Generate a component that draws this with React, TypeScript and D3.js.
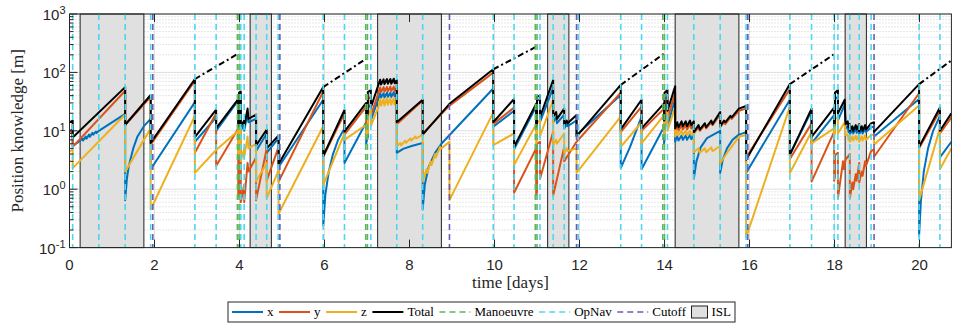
import React, { useEffect, useRef } from "react";
import * as d3 from "d3";

type Pt = [number, number];

// position knowledge per axis [m] vs time [days]; a repeated time marks a jump
const xKnowledge: Pt[] = [
  [0, 10], [0.075, 10.5], [0.075, 5.5], [0.25, 6.8], [0.3, 7.4], [0.32, 6.8], [0.38, 8], [0.4, 7.3],
  [0.46, 8.6], [0.48, 7.9], [0.54, 9.2], [0.56, 8.6], [0.62, 9.7], [0.64, 9.2], [0.69, 10], [1.31, 19.5],
  [1.31, 0.65], [1.35, 1.5], [1.4, 2.6], [1.5, 5], [1.6, 8], [1.75, 12], [1.91, 16], [1.91, 2.2],
  [2.95, 31], [2.95, 6.5], [3.45, 17], [3.45, 10], [3.97, 33], [3.97, 10], [3.99, 11], [3.99, 38],
  [4.03, 40], [4.03, 10], [4.11, 13], [4.11, 10], [4.19, 20], [4.21, 14], [4.39, 16], [4.39, 4.5],
  [4.64, 9], [4.64, 4.2], [4.92, 7.5], [4.92, 2.4], [5.97, 34], [5.97, 0.24], [6.02, 0.8], [6.1, 2],
  [6.2, 4], [6.32, 7], [6.47, 11], [6.47, 2.8], [6.98, 14], [6.98, 6], [7.02, 8], [7.02, 25],
  [7.09, 28], [7.09, 15], [7.27, 36], [7.31, 44], [7.33, 37], [7.39, 44], [7.41, 37], [7.47, 45],
  [7.49, 38], [7.55, 45], [7.57, 38], [7.63, 46], [7.65, 39], [7.7, 44], [7.7, 4.2], [7.85, 4.9],
  [8.05, 5.5], [8.31, 6.2], [8.31, 0.45], [8.36, 1.2], [8.45, 2.4], [8.6, 4.2], [8.75, 6], [9.97, 53],
  [9.97, 11.7], [10.46, 22], [10.46, 4.8], [10.98, 26], [10.98, 10], [11.0, 11], [11.0, 33], [11.07, 35],
  [11.07, 14], [11.38, 55], [11.38, 14], [11.45, 17], [11.47, 13.5], [11.64, 19], [11.64, 11], [11.7, 13],
  [11.72, 12], [11.93, 15], [11.93, 8.5], [12.97, 41], [12.97, 2.3], [13.19, 5.3], [13.46, 17.5], [13.46, 2.2],
  [13.99, 11.7], [13.99, 6], [14.0, 7], [14.0, 30], [14.07, 33], [14.07, 12], [14.25, 35], [14.25, 6.5],
  [14.3, 8], [14.33, 6.8], [14.4, 8.3], [14.43, 7], [14.5, 8.3], [14.53, 7], [14.6, 8.5], [14.63, 7.2],
  [14.69, 8.5], [14.69, 1.5], [14.75, 3], [14.85, 5.2], [15.0, 7.5], [15.31, 10], [15.31, 1.9], [15.37, 3.2],
  [15.47, 5], [15.6, 7], [15.75, 8.6], [15.92, 9.5], [15.92, 1.9], [16.95, 34], [16.95, 3.9], [17.46, 22],
  [17.46, 6.1], [17.99, 18.6], [17.99, 9], [18.01, 10], [18.01, 35], [18.08, 38], [18.08, 15], [18.24, 28],
  [18.26, 11], [18.31, 11.7], [18.33, 9.5], [18.36, 11], [18.36, 8.6], [18.42, 10.5], [18.44, 9], [18.5, 11],
  [18.52, 9.2], [18.58, 11.5], [18.58, 8.8], [18.64, 10.5], [18.66, 9], [18.72, 11], [18.74, 9.5], [18.86, 11.5],
  [18.93, 11.8], [18.93, 8], [19.99, 35], [19.99, 0.16], [20.03, 0.6], [20.1, 2], [20.2, 5], [20.32, 10],
  [20.48, 18], [20.48, 3.5], [20.75, 6.5],
];

const yKnowledge: Pt[] = [
  [0, 9.5], [0.075, 10], [0.075, 5.3], [1.31, 48.5], [1.31, 12.5], [1.91, 38], [1.91, 5.8], [2.95, 72],
  [2.95, 4.2], [3.45, 20], [3.45, 2.5], [3.97, 11], [3.97, 0.75], [3.99, 0.8], [3.99, 9], [4.03, 9.5],
  [4.03, 0.6], [4.11, 1.2], [4.11, 0.6], [4.19, 2.8], [4.21, 2], [4.39, 3.5], [4.39, 0.65], [4.64, 5],
  [4.64, 1.4], [4.92, 5.3], [4.92, 1.35], [5.97, 47], [5.97, 3.6], [6.47, 20], [6.47, 8.6], [6.98, 26],
  [6.98, 12], [7.02, 14], [7.02, 35], [7.09, 38], [7.09, 18], [7.27, 45], [7.31, 55], [7.33, 46],
  [7.39, 56], [7.41, 47], [7.47, 56], [7.49, 47], [7.55, 57], [7.57, 48], [7.63, 57], [7.65, 48],
  [7.7, 54], [7.7, 13], [8.31, 33], [8.31, 9], [8.94, 27], [9.97, 99], [9.97, 13], [10.46, 25],
  [10.46, 0.87], [10.98, 5], [10.98, 0.8], [11.0, 0.9], [11.0, 6], [11.07, 6.5], [11.07, 1.5], [11.38, 9.6],
  [11.38, 0.77], [11.64, 5.3], [11.64, 3], [11.93, 6.5], [12.97, 45], [12.97, 9.5], [13.46, 26], [13.46, 10],
  [13.99, 24], [13.99, 11], [14.0, 12], [14.0, 35], [14.07, 38], [14.07, 16], [14.25, 45], [14.25, 9.5],
  [14.3, 12], [14.33, 10], [14.4, 12.5], [14.43, 10.5], [14.5, 12.5], [14.53, 10.5], [14.6, 13], [14.63, 11],
  [14.69, 12.5], [14.69, 9], [14.8, 11.5], [14.83, 10], [14.95, 12.5], [14.98, 11], [15.1, 14], [15.13, 12.5],
  [15.31, 19], [15.31, 11.5], [15.4, 14], [15.43, 13], [15.55, 17], [15.58, 16], [15.75, 22], [15.92, 24],
  [15.92, 3.5], [16.95, 52], [16.95, 3.3], [17.46, 13.4], [17.46, 1.35], [17.99, 9.6], [17.99, 1.4], [18.01, 1.6],
  [18.01, 3.8], [18.08, 4.2], [18.08, 0.7], [18.2, 3], [18.22, 2.2], [18.26, 3.2], [18.36, 4], [18.36, 0.7],
  [18.42, 1.3], [18.44, 1.0], [18.5, 1.8], [18.52, 1.4], [18.58, 2.8], [18.58, 1.3], [18.64, 2], [18.66, 1.7],
  [18.72, 3], [18.74, 2.5], [18.86, 4.5], [18.93, 4.8], [18.93, 3.6], [19.99, 44], [19.99, 5], [20.48, 22],
  [20.48, 9], [20.75, 17],
];

const zKnowledge: Pt[] = [
  [0, 4.5], [0.075, 4.7], [0.075, 2.3], [1.31, 19], [1.31, 2.0], [1.91, 11], [1.91, 0.45], [2.95, 18],
  [2.95, 1.9], [3.45, 4.7], [3.97, 10], [3.97, 3.8], [3.99, 4], [3.99, 11], [4.03, 11.7], [4.03, 3],
  [4.11, 5], [4.11, 3.5], [4.19, 8], [4.21, 5], [4.39, 6], [4.39, 1.35], [4.64, 2.8], [4.64, 0.7],
  [4.92, 2.1], [4.92, 0.38], [5.97, 12], [5.97, 1.18], [6.47, 9], [6.47, 7], [6.98, 12.7], [6.98, 8],
  [7.02, 9], [7.02, 20], [7.09, 22], [7.09, 12], [7.27, 26], [7.31, 35], [7.33, 27], [7.39, 35],
  [7.41, 27], [7.47, 36], [7.49, 28], [7.55, 36], [7.57, 28], [7.63, 36], [7.65, 28], [7.7, 33],
  [7.7, 5.3], [7.78, 6.2], [7.8, 5.6], [7.9, 6.8], [7.92, 6.2], [8.02, 7.4], [8.04, 6.8], [8.14, 8],
  [8.16, 7.4], [8.31, 8.5], [8.31, 1.35], [8.4, 2.2], [8.42, 1.9], [8.5, 3], [8.52, 2.6], [8.6, 4],
  [8.62, 3.5], [8.72, 5.3], [8.75, 5], [8.94, 6.5], [8.94, 0.65], [9.97, 20.5], [9.97, 5.7], [10.46, 9],
  [10.46, 2.6], [10.98, 13], [10.98, 6], [11.0, 7], [11.0, 14], [11.07, 15], [11.07, 8], [11.38, 34],
  [11.38, 5.7], [11.45, 7], [11.47, 6], [11.64, 9], [11.64, 4.2], [11.7, 5], [11.72, 4.5], [11.93, 5],
  [11.93, 1.9], [12.97, 17.5], [12.97, 5.3], [13.46, 14], [13.46, 6.1], [13.99, 18.6], [13.99, 8], [14.0, 9],
  [14.0, 20], [14.07, 22], [14.07, 10], [14.25, 25], [14.25, 8], [14.3, 10], [14.33, 8.5], [14.4, 10],
  [14.43, 8.5], [14.5, 10], [14.53, 8.5], [14.6, 10], [14.63, 8.5], [14.69, 9.5], [14.69, 4.3], [14.8, 5],
  [14.83, 4.2], [14.95, 5], [14.98, 4.3], [15.1, 5.2], [15.13, 4.5], [15.31, 5.5], [15.31, 2.8], [15.5, 4.5],
  [15.75, 7.9], [15.92, 8.5], [15.92, 0.15], [16.95, 26], [16.95, 1.9], [17.46, 9.6], [17.46, 6.1], [17.99, 11],
  [17.99, 8], [18.01, 9], [18.01, 16], [18.08, 17], [18.08, 9], [18.24, 14], [18.26, 8.5], [18.31, 8.6],
  [18.33, 7], [18.36, 8], [18.36, 6.5], [18.42, 8], [18.44, 6.8], [18.5, 8.2], [18.52, 7], [18.58, 8.4],
  [18.58, 6.5], [18.64, 8], [18.66, 6.8], [18.72, 8.3], [18.74, 7], [18.86, 8.5], [18.93, 8.6], [18.93, 5.8],
  [19.99, 27], [19.99, 0.65], [20.48, 11], [20.48, 2.2], [20.75, 5],
];

const totalKnowledge: Pt[] = [
  [0, 14], [0.075, 15], [0.075, 7.7], [1.31, 56], [1.31, 12.7], [1.91, 41], [1.91, 6.2], [2.95, 77],
  [2.95, 7.8], [3.45, 23], [3.45, 11], [3.97, 35], [3.97, 12], [3.99, 13], [3.99, 45], [4.03, 47],
  [4.03, 12], [4.11, 15], [4.11, 12], [4.19, 24], [4.21, 16], [4.39, 19], [4.39, 5.6], [4.64, 10.5],
  [4.64, 5], [4.92, 8.3], [4.92, 2.7], [5.97, 56], [5.97, 3.7], [6.47, 22.7], [6.47, 9.7], [6.98, 30],
  [6.98, 16], [7.02, 20], [7.02, 46], [7.09, 50], [7.09, 25], [7.27, 62], [7.31, 75], [7.33, 62],
  [7.39, 76], [7.41, 63], [7.47, 77], [7.49, 64], [7.55, 77], [7.57, 64], [7.63, 78], [7.65, 65],
  [7.7, 74], [7.7, 14], [8.31, 34], [8.31, 8.6], [8.94, 29], [9.97, 113], [9.97, 14], [10.46, 35],
  [10.46, 5.3], [10.98, 29], [10.98, 11.7], [11.0, 13], [11.0, 38], [11.07, 40], [11.07, 17], [11.38, 74],
  [11.38, 17.5], [11.45, 21], [11.47, 16], [11.64, 24], [11.64, 12.7], [11.7, 15], [11.72, 13.5], [11.93, 18.6],
  [11.93, 8], [12.97, 61], [12.97, 10.6], [13.46, 34], [13.46, 11], [13.99, 29.5], [13.99, 15], [14.0, 16],
  [14.0, 45], [14.07, 50], [14.07, 22], [14.25, 58], [14.25, 11], [14.3, 14], [14.33, 11.5], [14.4, 14.5],
  [14.43, 12], [14.5, 14.5], [14.53, 12], [14.6, 15], [14.63, 12.5], [14.69, 14.5], [14.69, 9.5], [14.8, 12.5],
  [14.83, 10.5], [14.95, 13.5], [14.98, 11.5], [15.1, 15], [15.13, 13], [15.31, 21], [15.31, 12], [15.4, 15],
  [15.43, 14], [15.55, 18], [15.58, 17], [15.75, 24], [15.92, 26.6], [15.92, 3.2], [16.95, 63], [16.95, 3.9],
  [17.46, 24], [17.46, 7.9], [17.99, 25], [17.99, 12], [18.01, 14], [18.01, 45], [18.08, 50], [18.08, 20],
  [18.24, 34], [18.26, 13], [18.31, 14.5], [18.33, 11.5], [18.36, 13], [18.36, 10], [18.42, 12], [18.44, 10],
  [18.5, 12.5], [18.52, 10.5], [18.58, 13], [18.58, 9.8], [18.64, 12], [18.66, 10], [18.72, 12.5], [18.74, 10.5],
  [18.86, 13.4], [18.93, 14], [18.93, 9.6], [19.99, 63], [19.99, 5.3], [20.48, 25], [20.48, 10], [20.75, 20],
];

// total knowledge propagated without the next update (dash-dot)
const propagated: Pt[][] = [
  [[2.95, 77], [3.97, 210]],
  [[5.97, 56], [6.98, 172]],
  [[9.97, 113], [10.98, 275]],
  [[12.97, 61], [13.99, 210]],
  [[16.95, 63], [17.99, 205]],
  [[19.99, 63], [20.75, 160]],
];

const islWindows: Pt[] = [
  [0.25, 1.75], [4.25, 4.75], [7.25, 8.75], [11.25, 11.75], [14.25, 15.75], [18.25, 18.75],
];
const manoeuvreTimes = [3.95, 3.99, 6.97, 7.01, 10.96, 11.0, 13.96, 14.0];
const opnavTimes = [
  0.075, 0.69, 1.31, 1.91, 2.95, 3.45, 4.03, 4.11, 4.39, 4.64, 4.91, 5.97, 6.47, 7.09, 7.7, 8.31,
  9.97, 10.46, 11.07, 11.38, 11.64, 11.97, 12.97, 13.46, 14.07, 14.69, 15.31, 15.92, 16.95, 17.46,
  17.99, 18.08, 18.36, 18.58, 18.86, 19.99, 20.48,
];
const cutoffTimes = [1.96, 4.95, 8.94, 11.93, 15.96, 18.93];

const xTicks = [0, 2, 4, 6, 8, 10, 12, 14, 16, 18, 20];
const yExponents = [-1, 0, 1, 2, 3];
const legendLabels = ["x", "y", "z", "Total", "Manoeuvre", "OpNav", "Cutoff", "ISL"];

const App = () => {
  const ref = useRef<SVGSVGElement>(null);

  useEffect(() => {
    const svg = d3.select(ref.current);
    svg.selectAll("*").remove();

    const left = 69.5, right = 951.4, top = 14, bottom = 247.6;
    const x = d3.scaleLinear().domain([0, 20.75]).range([left, right]);
    const y = d3.scaleLog().domain([0.1, 1000]).range([bottom, top]);
    const axisColor = "#262626";
    const sans = "'Liberation Sans', Arial, sans-serif";
    const serif = "'Liberation Serif', 'Times New Roman', serif";

    const colors = {
      x: "#0072BD", y: "#D95319", z: "#EDB120", total: "#000000",
      manoeuvre: "#5DB55F", opnav: "#4DD8EE", cutoff: "#6E5BB3",
    };

    svg.append("defs").append("clipPath").attr("id", "plotClip")
      .append("rect").attr("x", left).attr("y", top)
      .attr("width", right - left).attr("height", bottom - top);

    // grid
    const grid = svg.append("g");
    const minor: number[] = [];
    yExponents.slice(0, -1).forEach((e) => {
      for (let m = 2; m <= 9; m++) minor.push(m * Math.pow(10, e));
    });
    grid.selectAll("line.minor").data(minor).enter().append("line")
      .attr("x1", left).attr("x2", right)
      .attr("y1", (d) => y(d)).attr("y2", (d) => y(d))
      .attr("stroke", "#b8b8b8").attr("stroke-width", 0.7)
      .attr("stroke-dasharray", "1,2");
    grid.selectAll("line.majy").data(yExponents).enter().append("line")
      .attr("x1", left).attr("x2", right)
      .attr("y1", (d) => y(Math.pow(10, d))).attr("y2", (d) => y(Math.pow(10, d)))
      .attr("stroke", "#dedede").attr("stroke-width", 1);
    grid.selectAll("line.majx").data(xTicks).enter().append("line")
      .attr("x1", (d) => x(d)).attr("x2", (d) => x(d))
      .attr("y1", top).attr("y2", bottom)
      .attr("stroke", "#dedede").attr("stroke-width", 1);

    // ISL windows
    svg.append("g").selectAll("rect").data(islWindows).enter().append("rect")
      .attr("x", (d) => x(d[0])).attr("y", top)
      .attr("width", (d) => x(d[1]) - x(d[0])).attr("height", bottom - top)
      .attr("fill", "#e0e0e0").attr("stroke", "#222").attr("stroke-width", 1);

    // series
    const line = d3.line<Pt>().x((d) => x(d[0])).y((d) => y(d[1]));
    const plot = svg.append("g").attr("clip-path", "url(#plotClip)");
    const series: [Pt[], string][] = [
      [xKnowledge, colors.x], [yKnowledge, colors.y], [zKnowledge, colors.z], [totalKnowledge, colors.total],
    ];
    series.forEach(([data, c]) => {
      plot.append("path").datum(data).attr("d", line)
        .attr("fill", "none").attr("stroke", c).attr("stroke-width", 2)
        .attr("stroke-linejoin", "round");
    });
    propagated.forEach((seg) => {
      plot.append("path").datum(seg).attr("d", line)
        .attr("fill", "none").attr("stroke", "#000").attr("stroke-width", 2)
        .attr("stroke-dasharray", "6,3,2,3");
    });

    // event markers
    const events: [number[], string][] = [
      [manoeuvreTimes, colors.manoeuvre], [opnavTimes, colors.opnav], [cutoffTimes, colors.cutoff],
    ];
    events.forEach(([times, c]) => {
      plot.append("g").selectAll("line").data(times).enter().append("line")
        .attr("x1", (d) => x(d)).attr("x2", (d) => x(d))
        .attr("y1", top).attr("y2", bottom)
        .attr("stroke", c).attr("stroke-width", 1.6)
        .attr("stroke-dasharray", "6,4");
    });

    // axes box and ticks
    const ax = svg.append("g");
    ax.append("rect").attr("x", left).attr("y", top)
      .attr("width", right - left).attr("height", bottom - top)
      .attr("fill", "none").attr("stroke", axisColor).attr("stroke-width", 1);
    xTicks.forEach((t) => {
      ax.append("line").attr("x1", x(t)).attr("x2", x(t)).attr("y1", bottom).attr("y2", bottom - 8)
        .attr("stroke", axisColor);
      ax.append("line").attr("x1", x(t)).attr("x2", x(t)).attr("y1", top).attr("y2", top + 8)
        .attr("stroke", axisColor);
      ax.append("text").attr("x", x(t)).attr("y", bottom + 22)
        .attr("text-anchor", "middle").attr("font-family", sans).attr("font-size", 15)
        .attr("fill", axisColor).text(String(t));
    });
    minor.forEach((v) => {
      ax.append("line").attr("x1", left).attr("x2", left + 4).attr("y1", y(v)).attr("y2", y(v))
        .attr("stroke", axisColor);
    });
    yExponents.forEach((e) => {
      const yy = y(Math.pow(10, e));
      ax.append("line").attr("x1", left).attr("x2", left + 8).attr("y1", yy).attr("y2", yy)
        .attr("stroke", axisColor);
      const label = ax.append("text").attr("x", left - 4).attr("y", yy + 6)
        .attr("text-anchor", "end").attr("font-family", sans).attr("fill", axisColor);
      label.append("tspan").attr("font-size", 15).text("10");
      label.append("tspan").attr("font-size", 11).attr("dy", -6).text(String(e));
    });

    // axis labels
    svg.append("text").attr("x", (left + right) / 2).attr("y", 288)
      .attr("text-anchor", "middle").attr("font-family", serif).attr("font-size", 17)
      .attr("fill", axisColor).text("time [days]");
    svg.append("text")
      .attr("transform", `translate(${23},${(top + bottom) / 2}) rotate(-90)`)
      .attr("text-anchor", "middle").attr("font-family", serif).attr("font-size", 17)
      .attr("fill", axisColor).text("Position knowledge [m]");

    // legend
    const lg = svg.append("g");
    const boxL = 228, boxR = 735, boxT = 302, boxB = 322;
    lg.append("rect").attr("x", boxL).attr("y", boxT).attr("width", boxR - boxL).attr("height", boxB - boxT)
      .attr("fill", "#fff").attr("stroke", axisColor).attr("stroke-width", 1);
    const styles = [
      { c: colors.x, dash: null }, { c: colors.y, dash: null }, { c: colors.z, dash: null },
      { c: colors.total, dash: null }, { c: colors.manoeuvre, dash: "6,4" },
      { c: colors.opnav, dash: "6,4" }, { c: colors.cutoff, dash: "6,4" }, { c: "patch", dash: null },
    ];
    const texts = legendLabels.map((l) =>
      lg.append("text").attr("font-family", serif).attr("font-size", 13).attr("fill", "#000")
        .attr("y", boxB - 6).text(l)
    );
    const widths = texts.map((t) => (t.node() as SVGTextElement).getComputedTextLength());
    const sampleW = legendLabels.map((_, i) => (i === 7 ? 16 : 31));
    const textPad = 4;
    const used = d3.sum(widths) + d3.sum(sampleW) + legendLabels.length * textPad;
    const gap = (boxR - boxL - 8 - used) / (legendLabels.length - 1);
    let cx = boxL + 4;
    const midY = (boxT + boxB) / 2;
    legendLabels.forEach((_, i) => {
      const s = styles[i];
      if (s.c === "patch") {
        lg.append("rect").attr("x", cx).attr("y", midY - 6).attr("width", sampleW[i]).attr("height", 12)
          .attr("fill", "#e0e0e0").attr("stroke", "#222");
      } else {
        const l = lg.append("line").attr("x1", cx).attr("x2", cx + sampleW[i])
          .attr("y1", midY).attr("y2", midY).attr("stroke", s.c).attr("stroke-width", 2);
        if (s.dash) l.attr("stroke-dasharray", s.dash).attr("stroke-width", 1.6);
      }
      cx += sampleW[i] + textPad;
      texts[i].attr("x", cx);
      cx += widths[i] + gap;
    });
  }, []);

  return (
    <svg ref={ref} width={953} height={324}
      style={{ position: "absolute", left: 0, top: 0, background: "#fff" }} />
  );
};

export default App;
